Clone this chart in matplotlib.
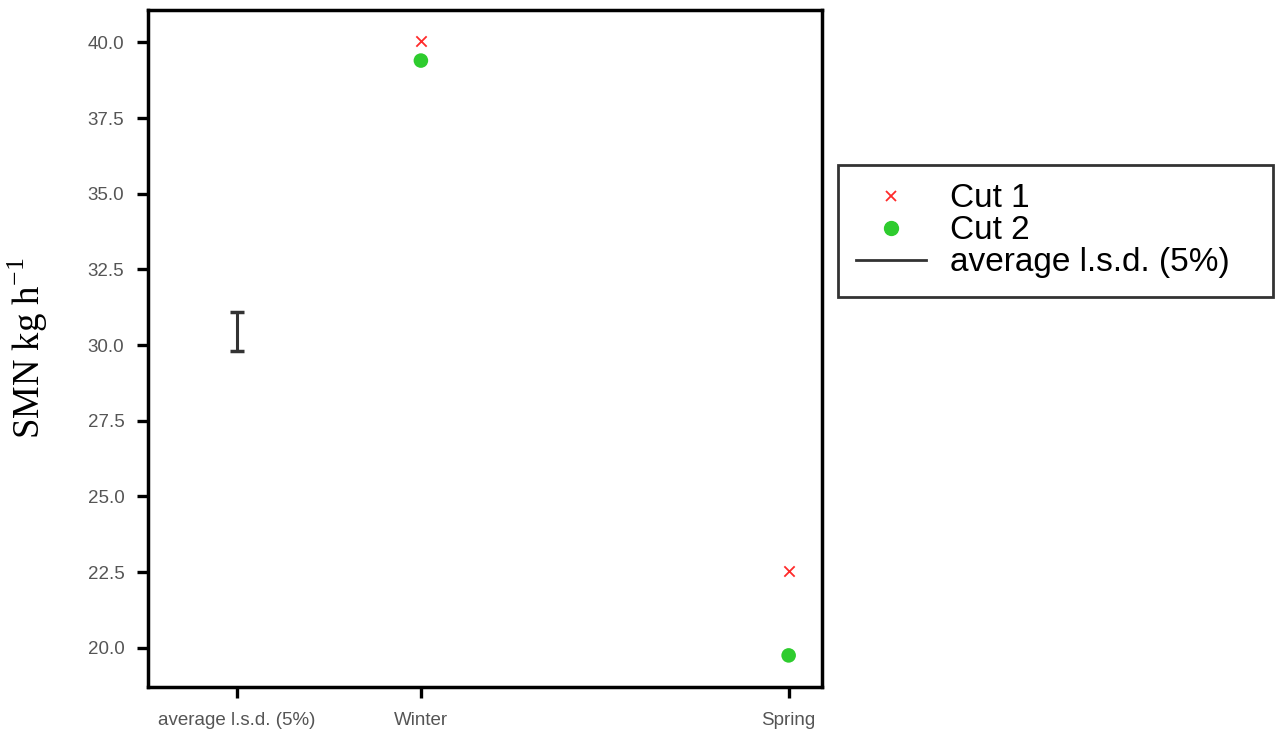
import numpy as np
import matplotlib.pyplot as plt
from matplotlib.lines import Line2D

# categories on a numeric x axis
cat_labels = ['average l.s.d. (5%)', 'Winter', 'Spring']
cat_pos = [0.5, 1.0, 2.0]

seasons_x = [1.0, 2.0]
cut1 = [40.05, 22.55]
cut2 = [39.4, 19.75]

lsd_x = 0.5
lsd_center = 30.45
lsd_half = 0.65

yticks = [20.0, 22.5, 25.0, 27.5, 30.0, 32.5, 35.0, 37.5, 40.0]

plt.rcParams['font.family'] = ['Liberation Sans', 'DejaVu Sans']

fig = plt.figure(figsize=(12.76, 7.37), dpi=100)
ax = fig.add_axes([0.116, 0.068, 0.528, 0.918])

ax.scatter(seasons_x, cut1, marker='x', color='#ff2a2a', s=55, linewidths=1.3, zorder=3)
ax.scatter(seasons_x, cut2, marker='o', color='#2ecc2e', s=110, edgecolors='none', zorder=3)
ax.errorbar([lsd_x], [lsd_center], yerr=[lsd_half], fmt='none', ecolor='#333333',
            elinewidth=2.2, capsize=4.7, capthick=2.5)

ax.set_xlim(0.258, 2.09)
ax.set_ylim(18.71, 41.06)
ax.set_xticks(cat_pos)
ax.set_xticklabels(cat_labels)
ax.set_yticks(yticks)
ax.set_yticklabels(['%.1f' % v for v in yticks])
ax.tick_params(direction='out', length=8, width=2.4, labelsize=13.5, labelcolor='#555555')
ax.tick_params(axis='x', pad=10)
ax.tick_params(axis='y', pad=9)

for sp in ax.spines.values():
    sp.set_linewidth(2.5)

ax.set_ylabel('SMN kg h$^{\\mathregular{-1}}$', family='Liberation Serif', fontsize=26.5)
ax.yaxis.set_label_coords(-0.145, 0.5)

handles = [
    Line2D([], [], marker='x', color='#ff2a2a', linestyle='none', markersize=7.5, markeredgewidth=1.3),
    Line2D([], [], marker='o', color='#2ecc2e', linestyle='none', markersize=10),
    Line2D([], [], color='#333333', linewidth=2),
]
leg = fig.legend(handles, ['Cut 1', 'Cut 2', 'average l.s.d. (5%)'],
                 loc='upper left', bbox_to_anchor=(838 / 1276, 1 - 293 / 737, 435 / 1276, 128 / 737),
                 mode='expand', borderaxespad=0,
                 fontsize=24, frameon=True, fancybox=False, edgecolor='black',
                 labelspacing=0.03, handlelength=2.1, handletextpad=0.7, borderpad=0.55)
leg.get_frame().set_linewidth(2)

fig.savefig('out.png', dpi=100)
